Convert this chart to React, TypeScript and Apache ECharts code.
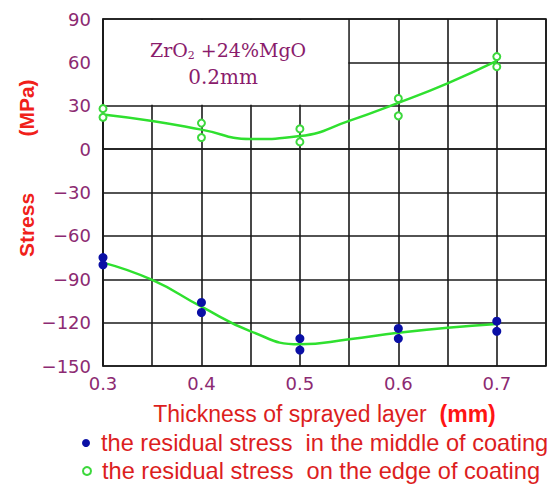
import React, { useEffect, useRef } from "react";
import * as echarts from "echarts";

// ---- data ----
const thickness = [0.3, 0.4, 0.5, 0.6, 0.7];
const middleUpper = [-75, -106, -131, -124, -119];
const middleLower = [-80, -113, -139, -131, -126];
const edgeUpper = [28, 18, 14, 35, 64];
const edgeLower = [22, 8, 5, 23, 57];
const fitEdgeX = [0.3, 0.35, 0.4, 0.45, 0.5, 0.55, 0.6, 0.65, 0.7];
const fitEdgeY = [24, 19.5, 13.5, 7, 9, 19.5, 32, 45.5, 61];
const fitMiddleX = [0.3, 0.35, 0.4, 0.45, 0.5, 0.55, 0.6, 0.65, 0.7];
const fitMiddleY = [-78.5, -90.5, -109, -126, -135, -131.5, -127, -123.5, -121];
const xTickLabels = ["0.3", "0.4", "0.5", "0.6", "0.7"];
const middleName = "the residual stress  in the middle of coating";
const edgeName = "the residual stress  on the edge of coating";

const PURPLE = "#8c2a72";
const RED = "#dc1e1e";
const GREEN = "#2fe02f";
const BLUE = "#0a0fa5";
const GRIDC = "#1a1a1a";

const pairs = (xs: number[], ys: number[]) => xs.map((x, i) => [x, ys[i]]);

const legendText = {
  fontFamily: "Liberation Sans",
  fontSize: 23.6,
  lineHeight: 24,
  color: RED,
};

export default function App() {
  const ref = useRef<HTMLDivElement>(null);
  useEffect(() => {
    if (!ref.current) return;
    const chart = echarts.init(ref.current, undefined, { renderer: "svg" });
    const option: any = {
      animation: false,
      backgroundColor: "#ffffff",
      grid: {
        left: 103,
        right: 6,
        top: 19,
        bottom: 118,
        show: true,
        borderColor: GRIDC,
        borderWidth: 1.6,
      },
      xAxis: {
        type: "value",
        min: 0.3,
        max: 0.75,
        interval: 0.05,
        axisLine: { show: true, lineStyle: { color: GRIDC, width: 1.6 } },
        axisTick: { show: false },
        splitLine: { show: true, lineStyle: { color: GRIDC, width: 1.6 } },
        axisLabel: {
          margin: 8,
          color: PURPLE,
          fontFamily: "DejaVu Sans",
          fontSize: 18,
          formatter: (v: number) => {
            const l = xTickLabels.find((t) => Math.abs(parseFloat(t) - v) < 1e-6);
            return l || "";
          },
        },
        name: "{a|Thickness of sprayed layer  }{b|(mm)}",
        nameLocation: "middle",
        nameGap: 36,
        nameTextStyle: {
          rich: {
            a: { fontFamily: "Liberation Sans", fontSize: 23, color: RED },
            b: { fontFamily: "Liberation Sans", fontSize: 23, color: "#ff1414", fontWeight: "bold" },
          },
        },
      },
      yAxis: {
        type: "value",
        min: -150,
        max: 90,
        interval: 30,
        axisLine: { show: true, lineStyle: { color: GRIDC, width: 1.6 } },
        axisTick: { show: false },
        splitLine: { show: true, lineStyle: { color: GRIDC, width: 1.6 } },
        axisLabel: {
          margin: 12,
          color: PURPLE,
          fontFamily: "DejaVu Sans",
          fontSize: 18,
          formatter: (v: number) => String(v).replace("-", "\u2212"),
        },
      },
      legend: [
        {
          left: 82,
          top: 431,
          padding: 0,
          itemWidth: 20,
          itemHeight: 8,
          selectedMode: false,
          textStyle: legendText,
          data: [{ name: middleName, icon: "circle" }],
        },
        {
          left: 82,
          top: 459,
          padding: 0,
          itemWidth: 20,
          itemHeight: 8,
          selectedMode: false,
          textStyle: legendText,
          data: [{ name: edgeName, icon: "emptyCircle" }],
        },
      ],
      series: [
        {
          type: "line",
          name: "fitEdge",
          data: pairs(fitEdgeX, fitEdgeY),
          smooth: 0.5,
          showSymbol: false,
          symbol: "none",
          lineStyle: { color: GREEN, width: 2.5 },
          z: 3,
        },
        {
          type: "line",
          name: "fitMiddle",
          data: pairs(fitMiddleX, fitMiddleY),
          smooth: 0.5,
          showSymbol: false,
          symbol: "none",
          lineStyle: { color: GREEN, width: 2.5 },
          z: 3,
        },
        {
          type: "scatter",
          name: middleName,
          symbol: "circle",
          symbolSize: 9,
          itemStyle: { color: BLUE, opacity: 1 },
          data: [...pairs(thickness, middleUpper), ...pairs(thickness, middleLower)],
          z: 4,
        },
        {
          type: "scatter",
          name: edgeName,
          symbol: "emptyCircle",
          symbolSize: 7,
          itemStyle: { color: "#3cd83c", borderColor: "#3cd83c", borderWidth: 1.8, opacity: 1 },
          data: [...pairs(thickness, edgeUpper), ...pairs(thickness, edgeLower)],
          z: 4,
        },
      ],
    };
    chart.setOption(option);

    const p1 = chart.convertToPixel({ gridIndex: 0 }, [0.3, 90]) as number[];
    const p2 = chart.convertToPixel({ gridIndex: 0 }, [0.55, 30]) as number[];
    const cx = (p1[0] + p2[0]) / 2 + 2;
    chart.setOption({
      graphic: {
        elements: [
          {
            type: "rect",
            z: 1,
            shape: { x: p1[0] + 1, y: p1[1] + 1, width: p2[0] - p1[0] - 2, height: p2[1] - p1[1] - 2 },
            style: { fill: "#ffffff" },
          },
          {
            type: "text",
            z: 5,
            x: cx,
            y: p1[1] + 31,
            style: {
              text: "{a|ZrO}{s|2}{a| +24%MgO}",
              align: "center",
              verticalAlign: "middle",
              rich: {
                a: { fontFamily: "DejaVu Serif", fontSize: 19, fill: "#8a1c6c" },
                s: { fontFamily: "DejaVu Serif", fontSize: 11, fill: "#8a1c6c", padding: [10, 0, 0, 0] },
              },
            },
          },
          {
            type: "text",
            z: 5,
            x: cx - 5,
            y: p1[1] + 58,
            style: {
              text: "0.2mm",
              align: "center",
              verticalAlign: "middle",
              fontFamily: "DejaVu Serif",
              fontSize: 20,
              fill: "#8a1c6c",
            },
          },
          {
            type: "text",
            z: 5,
            x: 26,
            y: 225,
            rotation: Math.PI / 2,
            style: {
              text: "Stress",
              align: "center",
              verticalAlign: "middle",
              fontFamily: "Liberation Sans",
              fontWeight: "bold",
              fontSize: 21,
              fill: "#f0201a",
            },
          },
          {
            type: "text",
            z: 5,
            x: 26,
            y: 108,
            rotation: Math.PI / 2,
            style: {
              text: "(MPa)",
              align: "center",
              verticalAlign: "middle",
              fontFamily: "Liberation Sans",
              fontWeight: "bold",
              fontSize: 21,
              fill: "#f0201a",
            },
          },
        ],
      },
    });
    return () => chart.dispose();
  }, []);
  return (
    <div
      ref={ref}
      style={{ position: "fixed", left: 0, top: 0, width: 552, height: 484 }}
    />
  );
}
